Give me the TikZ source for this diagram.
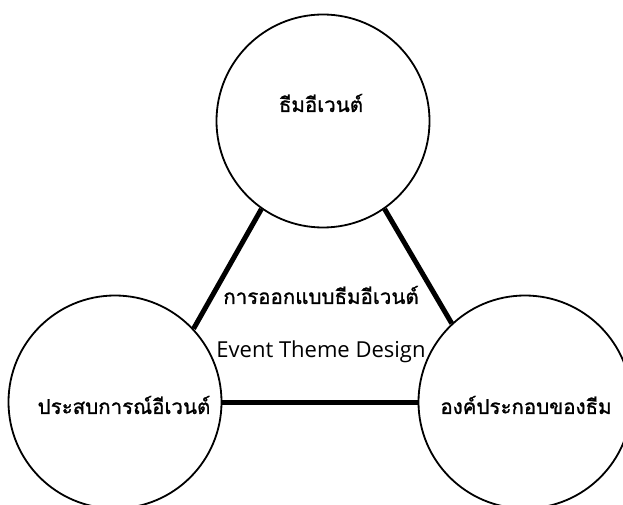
\documentclass[tikz,border=0pt]{standalone}
\usepackage{fontspec}
\setmainfont{Open Sans}
\newfontfamily\thaifont[Script=Thai,FakeBold=1.2]{Loma}
\begin{document}
\begin{tikzpicture}[x=1pt,y=-1pt,
  bubble/.style={circle,draw=black,line width=1.8pt,minimum size=213pt,inner sep=0pt},
  link/.style={line width=5pt},
  thailabel/.style={font=\thaifont\fontsize{20.5}{24}\selectfont,inner sep=0pt},
  englabel/.style={font=\fontsize{22}{26}\selectfont,inner sep=0pt}]
\useasboundingbox (0,0) rectangle (623,505);
\fill[white] (0,0) rectangle (623,505);
\node[bubble] (top) at (323,121) {};
\node[bubble] (left) at (115,402) {};
\node[bubble] (right) at (525,402) {};
\draw[link] (top.235) -- (left.43);
\draw[link] (top.305) -- (right.133);
\draw[link] (left.east) -- (right.west);
\node[thailabel] (t1) at (321,103) {ธีมอีเวนต์};
\node[thailabel] (t2) at (321,295) {การออกแบบธีมอีเวนต์};
\node[englabel] (t3) at (321,352) {Event Theme Design};
\node[thailabel] (t4) at (124,405) {ประสบการณ์อีเวนต์};
\node[thailabel] (t5) at (526,405) {องค์ประกอบของธีม};
\end{tikzpicture}
\end{document}
